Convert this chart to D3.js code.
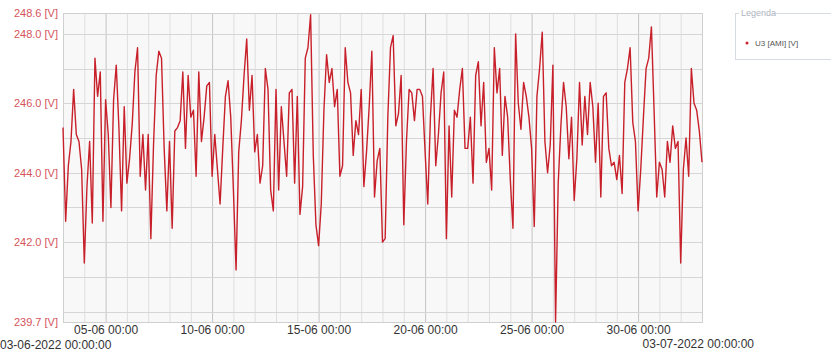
<!DOCTYPE html>
<html>
<head>
<meta charset="utf-8">
<script src="https://cdn.jsdelivr.net/npm/d3@7"></script>
<style>
  body { margin: 0; background: #fff; }
  svg { display: block; font-family: "Liberation Sans", Arial, sans-serif; }
</style>
</head>
<body>
<div id="chart"></div>
<script>
// U3 [AMI] [V], one reading every 3 hours from 03-06-2022 00:00
var startTime = "2022-06-03T00:00:00Z";
var endTime = "2022-07-03T00:00:00Z";
var stepHours = 3;
var voltage = [
  245.3, 242.6, 244.2, 244.9, 246.4, 245.1, 244.9, 244.1,
  241.4, 243.6, 244.9, 242.55, 247.3, 246.2, 246.9, 242.6,
  246.1, 245.1, 243.0, 246.1, 247.1, 245.3, 242.9, 245.9,
  243.7, 244.4, 245.4, 246.9, 247.6, 243.9, 245.1, 243.5,
  245.1, 242.1, 244.8, 246.8, 247.5, 247.3, 244.7, 242.9,
  244.9, 242.4, 245.2, 245.3, 245.5, 246.9, 244.7, 246.8,

  245.6, 245.8, 243.9, 246.9, 244.9, 245.6, 246.5, 246.6,
  243.9, 245.1, 244.1, 243.1, 244.7, 246.2, 246.65, 245.6,
  243.5, 241.2, 244.6, 245.5, 246.8, 247.85, 245.8, 246.8,
  244.6, 245.1, 243.7, 244.2, 247.0, 246.4, 243.5, 242.9,
  246.4, 243.5, 245.9, 244.9, 243.9, 246.3, 246.4, 243.7,
  246.2, 242.8, 243.6, 247.3, 247.6, 248.55, 244.5, 242.5,

  241.9, 243.1, 245.8, 247.4, 246.6, 247.0, 245.9, 246.4,
  243.9, 244.2, 247.6, 246.6, 246.3, 244.5, 245.5, 245.1,
  246.4, 243.6, 244.6, 245.9, 247.5, 243.3, 244.35, 244.7,
  242.0, 242.1, 245.6, 247.6, 247.95, 245.35, 245.7, 246.8,
  242.5, 244.9, 246.4, 246.3, 245.5, 246.4, 246.4, 246.2,
  244.6, 243.1, 245.6, 247.0, 244.2, 245.1, 246.3, 246.9,

  242.1, 245.35, 243.3, 245.8, 245.6, 246.4, 247.0, 244.7,
  244.7, 245.6, 243.7, 246.8, 247.2, 245.35, 246.6, 244.3,
  244.7, 243.5, 247.6, 246.3, 247.0, 244.5, 246.2, 245.6,
  243.8, 242.4, 248.0, 246.0, 245.25, 246.6, 246.2, 245.6,
  244.7, 242.45, 246.2, 247.0, 248.05, 244.9, 244.0, 244.8,
  247.1, 239.7, 243.7, 245.35, 246.6, 245.9, 244.4, 245.6,

  243.2, 244.4, 246.6, 244.8, 246.2, 245.1, 246.6, 245.9,
  244.3, 246.0, 243.3, 246.2, 246.3, 244.7, 244.2, 244.3,
  243.8, 244.5, 243.4, 246.6, 247.0, 247.6, 245.45, 244.9,
  242.9, 244.1, 245.6, 247.0, 247.3, 248.2, 245.8, 243.3,
  244.3, 244.1, 243.3, 244.9, 244.3, 245.35, 244.7, 244.9,
  241.4, 244.1, 245.0, 243.9, 247.0, 246.0, 245.8, 245.2,
  244.3
];
var yTicks = [239.7, 242.0, 244.0, 246.0, 248.0, 248.6];
var xTickDays = ["2022-06-05", "2022-06-10", "2022-06-15", "2022-06-20", "2022-06-25", "2022-06-30"];
var startLabel = "03-06-2022 00:00:00";
var endLabel = "03-07-2022 00:00:00";
var seriesName = "U3 [AMI] [V]";
var legendTitle = "Legenda";

var width = 831, height = 352,
    margin = {top: 13, right: 129, bottom: 30, left: 63};

var t0 = new Date(startTime);
var data = voltage.map(function(v, i) {
  return {t: new Date(t0.getTime() + i * stepHours * 3600 * 1000), v: v};
});

var svg = d3.select("#chart").append("svg")
  .attr("width", width).attr("height", height);

var x = d3.scaleUtc()
  .domain([t0, new Date(endTime)])
  .range([margin.left, width - margin.right]);
var y = d3.scaleLinear()
  .domain([yTicks[0], yTicks[yTicks.length - 1]])
  .range([height - margin.bottom, margin.top]);

// plot background
svg.append("rect")
  .attr("x", x.range()[0]).attr("y", y.range()[1])
  .attr("width", x.range()[1] - x.range()[0])
  .attr("height", y.range()[0] - y.range()[1])
  .attr("fill", "#f8f8f8");

// grid: every day, every volt
var days = d3.utcDay.range(t0, new Date(endTime));
var majorSet = xTickDays.map(function(d) { return new Date(d + "T00:00:00Z").getTime(); });
svg.append("g").selectAll("line")
  .data(days)
  .enter().append("line")
  .attr("x1", function(d) { return x(d) + 0.5; })
  .attr("x2", function(d) { return x(d) + 0.5; })
  .attr("y1", y.range()[1]).attr("y2", y.range()[0])
  .attr("stroke", function(d) { return majorSet.indexOf(d.getTime()) >= 0 ? "#c4c4c4" : "#dedede"; })
  .attr("stroke-width", 1);

var volts = d3.range(240, 249);
svg.append("g").selectAll("line")
  .data(volts)
  .enter().append("line")
  .attr("x1", x.range()[0]).attr("x2", x.range()[1])
  .attr("y1", function(d) { return Math.round(y(d)) + 0.5; })
  .attr("y2", function(d) { return Math.round(y(d)) + 0.5; })
  .attr("stroke", "#d6d6d6");

svg.append("rect")
  .attr("x", x.range()[0] + 0.5).attr("y", y.range()[1] + 0.5)
  .attr("width", x.range()[1] - x.range()[0])
  .attr("height", y.range()[0] - y.range()[1])
  .attr("fill", "none").attr("stroke", "#d0d0d0");

// series
var line = d3.line()
  .x(function(d) { return x(d.t); })
  .y(function(d) { return y(d.v); });

svg.append("path")
  .datum(data)
  .attr("fill", "none")
  .attr("stroke", "#c8202a")
  .attr("stroke-width", 1.4)
  .attr("stroke-linejoin", "round")
  .attr("d", line);

// y axis labels
var yAxis = d3.axisLeft(y)
  .tickValues(yTicks)
  .tickSize(0)
  .tickPadding(5)
  .tickFormat(function(d) { return d3.format(".1f")(d) + " [V]"; });
var gy = svg.append("g")
  .attr("transform", "translate(" + x.range()[0] + ",0)")
  .call(yAxis);
gy.select(".domain").remove();
gy.selectAll("text").attr("fill", "#d5545b").style("font-size", "11px");

// x axis labels
var xAxis = d3.axisBottom(x)
  .tickValues(xTickDays.map(function(d) { return new Date(d + "T00:00:00Z"); }))
  .tickSize(0)
  .tickPadding(3)
  .tickFormat(d3.utcFormat("%d-%m %H:%M"));
var gx = svg.append("g")
  .attr("transform", "translate(0," + y.range()[0] + ")")
  .call(xAxis);
gx.select(".domain").remove();
gx.selectAll("text").attr("fill", "#333").style("font-size", "12px");

svg.append("text")
  .attr("x", 0).attr("y", 349)
  .attr("fill", "#333").style("font-size", "12px")
  .text(startLabel);
svg.append("text")
  .attr("x", x.range()[1] + 52).attr("y", 348)
  .attr("text-anchor", "end")
  .attr("fill", "#333").style("font-size", "12px")
  .text(endLabel);

// legend
var lg = svg.append("g").attr("transform", "translate(735,13)");
lg.append("rect")
  .attr("x", 0.5).attr("y", 0.5)
  .attr("width", 110).attr("height", 46)
  .attr("fill", "#fff").attr("stroke", "#d5dae3");
lg.append("rect")
  .attr("x", 4).attr("y", -3).attr("width", 34).attr("height", 7)
  .attr("fill", "#fff");
lg.append("text")
  .attr("x", 6).attr("y", 3)
  .attr("fill", "#aeb4c0").style("font-size", "9px")
  .text(legendTitle);
lg.append("circle")
  .attr("cx", 12).attr("cy", 30).attr("r", 1.5)
  .attr("fill", "#cc2229");
lg.append("text")
  .attr("x", 20).attr("y", 33)
  .attr("fill", "#555").style("font-size", "8px")
  .text(seriesName);
</script>
</body>
</html>
